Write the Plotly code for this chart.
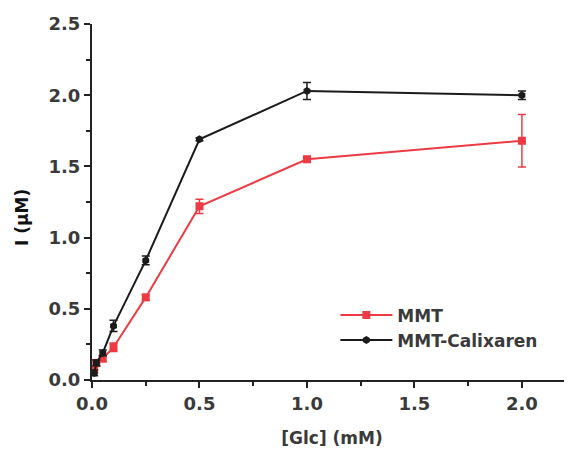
import plotly.graph_objects as go

glc_mmt = [0.01, 0.02, 0.05, 0.1, 0.25, 0.5, 1.0, 2.0]
i_mmt = [0.07, 0.12, 0.15, 0.23, 0.58, 1.22, 1.55, 1.68]
err_mmt = [0.02, 0.02, 0.02, 0.03, 0.02, 0.05, 0.02, 0.185]

glc_cal = [0.01, 0.02, 0.05, 0.1, 0.25, 0.5, 1.0, 2.0]
i_cal = [0.05, 0.12, 0.19, 0.38, 0.84, 1.69, 2.03, 2.0]
err_cal = [0.02, 0.02, 0.02, 0.04, 0.03, 0.01, 0.06, 0.03]

x_ticks = [0.0, 0.5, 1.0, 1.5, 2.0]
y_ticks = [0.0, 0.5, 1.0, 1.5, 2.0, 2.5]

red = "#ec3b43"
black = "#1b1b1b"
font_col = "#3a3a3a"
fam = "DejaVu Sans, Arial"

fig = go.Figure()
fig.add_trace(go.Scatter(
    x=glc_mmt, y=i_mmt, name="MMT", mode="lines+markers",
    line=dict(color=red, width=2),
    marker=dict(symbol="square", size=8, color=red),
    error_y=dict(type="data", array=err_mmt, color=red, thickness=1.5, width=4),
))
fig.add_trace(go.Scatter(
    x=glc_cal, y=i_cal, name="MMT-Calixaren", mode="lines+markers",
    line=dict(color=black, width=2),
    marker=dict(symbol="hexagon", size=8, color=black),
    error_y=dict(type="data", array=err_cal, color=black, thickness=1.5, width=4),
))

axis_common = dict(
    showline=True, linecolor="#222", linewidth=2,
    ticks="outside", ticklen=6, tickwidth=2, tickcolor="#222",
    showgrid=False, zeroline=False, automargin=False,
    tickfont=dict(family=fam, size=18, color=font_col, weight="bold"),
    minor=dict(ticks="outside", ticklen=4, tickwidth=2, tickcolor="#222"),
)

fig.update_xaxes(
    range=[0, 2.233], tickvals=x_ticks, ticktext=[f"{v:.1f}" for v in x_ticks],
    minor_dtick=0.25,
    title=dict(text="[Glc] (mM)", font=dict(family=fam, size=17, color=font_col, weight="bold"), standoff=20),
    **axis_common,
)
fig.update_yaxes(
    range=[0, 2.5], tickvals=y_ticks, ticktext=[f"{v:.1f}" for v in y_ticks],
    minor_dtick=0.25,
    **axis_common,
)

fig.add_annotation(
    text="I (μM)", xref="paper", yref="paper", x=0, y=0.455,
    xshift=-70, xanchor="center", yanchor="middle", textangle=-90,
    showarrow=False,
    font=dict(family=fam, size=17, color="#111", weight="bold"),
)

fig.update_layout(
    width=564, height=443,
    margin=dict(l=84, r=0, t=16, b=71),
    plot_bgcolor="white", paper_bgcolor="white",
    showlegend=True,
    legend=dict(
        x=0.507, y=0.232, xanchor="left", yanchor="top",
        bgcolor="rgba(0,0,0,0)",
        font=dict(family=fam, size=17, color=font_col, weight="bold"),
        itemwidth=52, tracegroupgap=0,
    ),
)

fig.write_html("out.html")
